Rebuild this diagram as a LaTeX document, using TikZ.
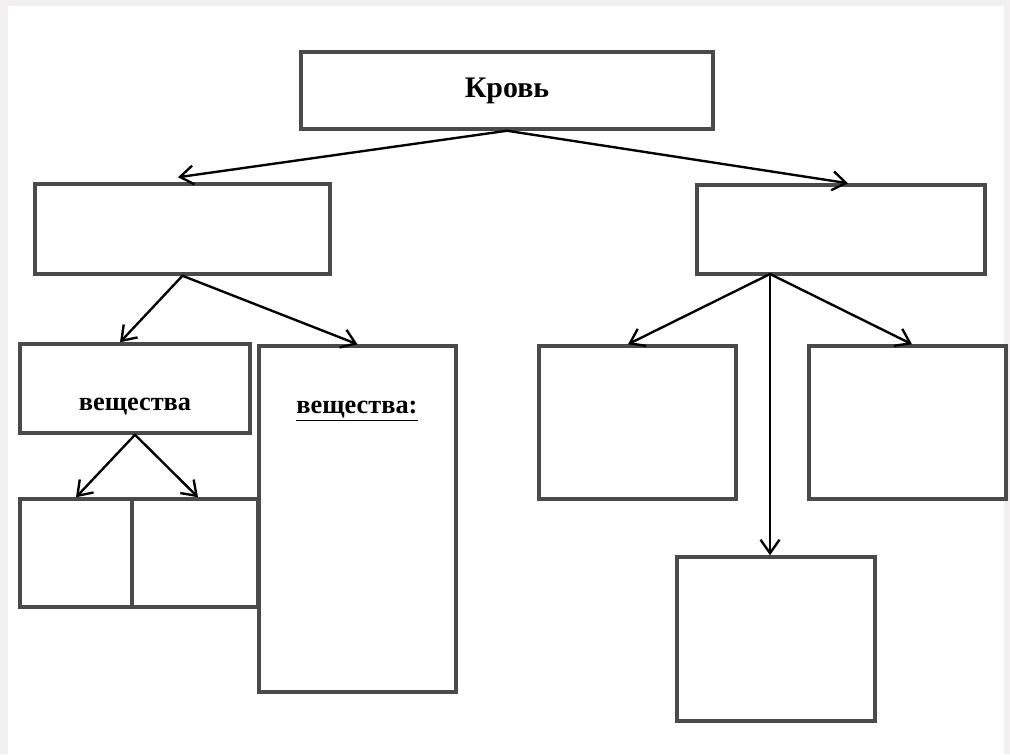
\documentclass[tikz,border=0pt]{standalone}
\usepackage{fontspec}
\setmainfont{Liberation Serif}
\usetikzlibrary{arrows.meta}
\definecolor{boxgray}{HTML}{4A4A4A}
\definecolor{pagegray}{HTML}{F1EFEF}
\tikzset{
  every picture/.style={>={Straight Barb[length=2.7mm,width=3.8mm]}},
  box/.style={draw=boxgray, line width=2pt, rectangle, inner sep=0pt},
  link/.style={->, line width=1.35pt, black, line cap=round, line join=round},
  lbl/.style={font=\bfseries\fontsize{15}{18}\selectfont, inner sep=1pt},
}

\begin{document}
\begin{tikzpicture}[x=0.02cm,y=-0.02cm]
\fill[pagegray](0,0) rectangle (1010,754);
\fill[white](8,6) rectangle (1004,754);
\node[box,minimum width=8.24cm,minimum height=1.54cm,font=\bfseries\fontsize{17}{20}\selectfont] (krov) at (507,90.5) {Кровь};
\node[box,minimum width=5.9cm,minimum height=1.8cm] (plasma) at (182.5,229) {};
\node[box,minimum width=5.76cm,minimum height=1.78cm] (cells) at (841,229.5) {};
\node[box,minimum width=4.6cm,minimum height=1.78cm] (organ) at (135,388.5) {};
\node[box,minimum width=3.94cm,minimum height=6.92cm] (inorg) at (357.5,519) {};
\node[box,minimum width=2.24cm,minimum height=2.16cm] (organa) at (76,553) {};
\node[box,minimum width=2.52cm,minimum height=2.16cm] (organb) at (195,553) {};
\node[box,minimum width=3.94cm,minimum height=3.06cm] (cella) at (637.5,422.5) {};
\node[box,minimum width=3.94cm,minimum height=3.06cm] (cellb) at (907.5,422.5) {};
\node[box,minimum width=3.96cm,minimum height=3.28cm] (cellc) at (776,639) {};
\node[lbl] (organlbl) at (135,407) {вещества};
\node[lbl] (inorglbl) at (357,411) {\underline{вещества:}};
\coordinate (fork) at (770,274);
\draw[link](krov.south)--([xshift=-0.09cm,yshift=0.1cm]plasma.north);
\draw[link](krov.south)--([xshift=0.14cm]cells.north);
\draw[link](plasma.south)--([xshift=-0.3cm]organ.north);
\draw[link](plasma.south)--(inorg.north);
\draw[link](organ.south)--(organa.north);
\draw[link](organ.south)--([xshift=0.06cm]organb.north);
\draw[link](fork)--([xshift=-0.19cm]cella.north);
\draw[link](fork)--([xshift=0.09cm]cellb.north);
\draw[link](fork)--(fork |- cellc.north);
\end{tikzpicture}
\end{document}
